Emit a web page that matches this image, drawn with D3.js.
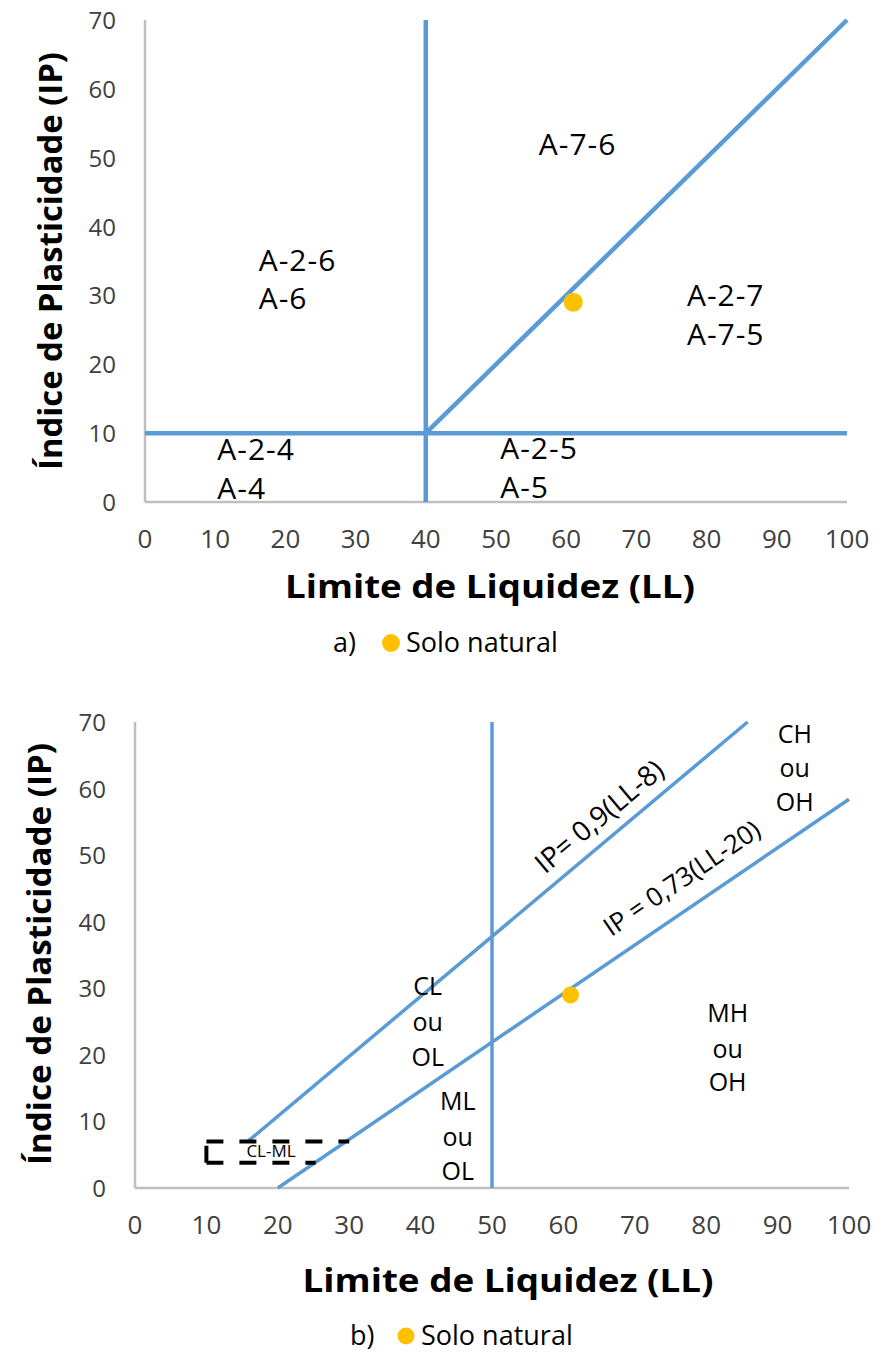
<!DOCTYPE html>
<html>
<head>
<meta charset="utf-8">
<script src="https://cdn.jsdelivr.net/npm/d3@7"></script>
<style>
  body { margin: 0; background: #fff; }
  svg { display: block; }
  .tick-x { font-family: "Open Sans", sans-serif; font-size: 26px; fill: #404040; }
  .tick-y { font-family: "Open Sans", sans-serif; font-size: 24px; fill: #404040; }
  .axis-title { font-family: "Open Sans", sans-serif; font-weight: bold; font-size: 33px; fill: #000; }
  .zone { font-family: "Open Sans", sans-serif; font-size: 30px; fill: #000; letter-spacing: 1px; }
  .zone-b { font-family: "Open Sans", sans-serif; font-size: 25px; fill: #000; }
  .caption { font-family: "Open Sans", sans-serif; font-size: 27px; fill: #000; }
</style>
</head>
<body>
<div id="chart"></div>
<script>
// axis ticks (both panels)
const xTicks = [0, 10, 20, 30, 40, 50, 60, 70, 80, 90, 100];
const yTicks = [0, 10, 20, 30, 40, 50, 60, 70];

// sample: Solo natural [LL, IP]
const soloNatural = [[61, 29]];

// panel a) AASHTO boundaries
const aashtoLines = [
  [[40, 0], [40, 70]],
  [[0, 10], [100, 10]],
  [[40, 10], [100, 70]]
];
const aashtoLabels = [
  { t: "A-7-6", x: 56.1, y: 50.4 },
  { t: "A-2-6", x: 16.2, y: 33.6 },
  { t: "A-6", x: 16.2, y: 28.0 },
  { t: "A-2-7", x: 77.2, y: 28.4 },
  { t: "A-7-5", x: 77.2, y: 22.8 },
  { t: "A-2-4", x: 10.3, y: 6.1 },
  { t: "A-4", x: 10.3, y: 0.4 },
  { t: "A-2-5", x: 50.6, y: 6.2 },
  { t: "A-5", x: 50.6, y: 0.6 }
];

// panel b) USCS (Casagrande) boundaries
const uscsLines = [
  [[50, 0], [50, 70]],
  [[15.8, 7], [85.8, 70]],   // IP = 0,9(LL-8)
  [[20, 0], [100, 58.4]]     // IP = 0,73(LL-20)
];
const clmlBox = [
  [[10, 7], [30, 7]],
  [[10, 3.8], [25.3, 3.8]],
  [[10, 3.8], [10, 7]]
];
const uscsLabels = [
  { t: ["CL", "ou", "OL"], x: 41, y: [29, 23.6, 18.3] },
  { t: ["ML", "ou", "OL"], x: 45.2, y: [11.7, 6.3, 1.2] },
  { t: ["MH", "ou", "OH"], x: 83, y: [24.9, 19.6, 14.5] },
  { t: ["CH", "ou", "OH"], x: 92.4, y: [66.9, 61.7, 56.6] }
];
const lineLabels = [
  { t: "IP= 0,9(LL-8)", x: 65.9, y: 54.7, line: 1, size: 28 },
  { t: "IP = 0,73(LL-20)", x: 77.3, y: 45.4, line: 2, size: 26 }
];

const blue = "#5b9bd5";
const gold = "#ffc000";

const svg = d3.select("#chart").append("svg")
  .attr("width", 877)
  .attr("height", 1354);

function panel(opt) {
  const x = d3.scaleLinear().domain([0, 100]).range([opt.left, opt.right]);
  const y = d3.scaleLinear().domain([0, 70]).range([opt.bottom, opt.top]);
  const g = svg.append("g");

  // axes lines (grey, no tick marks)
  g.append("line")
    .attr("x1", x(0)).attr("x2", x(0))
    .attr("y1", y(0)).attr("y2", y(70))
    .attr("stroke", "#bfbfbf").attr("stroke-width", 2.5);
  g.append("line")
    .attr("x1", x(0)).attr("x2", x(100))
    .attr("y1", y(0)).attr("y2", y(0))
    .attr("stroke", "#bfbfbf").attr("stroke-width", 2.5);

  g.selectAll(".tick-x").data(xTicks).enter().append("text")
    .attr("class", "tick-x")
    .attr("x", d => x(d))
    .attr("y", y(0) + opt.tickXOff)
    .attr("text-anchor", "middle")
    .text(d => d);
  g.selectAll(".tick-y").data(yTicks).enter().append("text")
    .attr("class", "tick-y")
    .attr("x", x(0) - opt.tickYOff)
    .attr("y", d => y(d) + 9)
    .attr("text-anchor", "end")
    .text(d => d);

  g.append("text")
    .attr("class", "axis-title")
    .attr("x", opt.xTitle[0]).attr("y", opt.xTitle[1])
    .attr("text-anchor", "middle")
    .attr("textLength", opt.xTitle[2])
    .attr("lengthAdjust", "spacingAndGlyphs")
    .text("Limite de Liquidez (LL)");
  g.append("text")
    .attr("class", "axis-title")
    .attr("transform", `translate(${opt.yTitle[0]},${opt.yTitle[1]}) rotate(-90)`)
    .attr("text-anchor", "middle")
    .attr("textLength", opt.yTitle[2])
    .attr("lengthAdjust", "spacingAndGlyphs")
    .text("Índice de Plasticidade (IP)");

  const line = d3.line().x(d => x(d[0])).y(d => y(d[1]));
  g.selectAll(".bound").data(opt.lines).enter().append("path")
    .attr("d", line)
    .attr("fill", "none")
    .attr("stroke", blue)
    .attr("stroke-width", opt.lineW);

  return { g, x, y, line };
}

// ---- panel a ----
const pa = panel({
  left: 145, right: 847, top: 20, bottom: 502,
  tickXOff: 46, tickYOff: 29,
  xTitle: [490, 598, 410], yTitle: [62, 261, 418],
  lines: aashtoLines, lineW: 4.5
});

pa.g.selectAll(".zone").data(aashtoLabels).enter().append("text")
  .attr("class", "zone")
  .attr("x", d => pa.x(d.x))
  .attr("y", d => pa.y(d.y))
  .text(d => d.t);

pa.g.selectAll(".pt").data(soloNatural).enter().append("circle")
  .attr("cx", d => pa.x(d[0]))
  .attr("cy", d => pa.y(d[1]))
  .attr("r", 9.5)
  .attr("fill", gold);

// caption a
svg.append("text").attr("class", "caption").attr("x", 333).attr("y", 652).text("a)");
svg.append("circle").attr("cx", 391).attr("cy", 643).attr("r", 9).attr("fill", gold);
svg.append("text").attr("class", "caption").attr("x", 406).attr("y", 652).text("Solo natural");

// ---- panel b ----
const pb = panel({
  left: 135, right: 849, top: 722, bottom: 1188,
  tickXOff: 46, tickYOff: 29,
  xTitle: [508, 1292, 411], yTitle: [51, 954, 422],
  lines: uscsLines, lineW: 3.5
});

pb.g.selectAll(".box").data(clmlBox).enter().append("path")
  .attr("d", pb.line)
  .attr("fill", "none")
  .attr("stroke", "#000")
  .attr("stroke-width", 4)
  .attr("stroke-dasharray", "17,16");

pb.g.append("text")
  .attr("font-family", "'Open Sans', sans-serif")
  .attr("font-size", 17)
  .attr("x", 271).attr("y", pb.y(4.6))
  .attr("text-anchor", "middle")
  .text("CL-ML");

uscsLabels.forEach(d => {
  d.t.forEach((s, i) => {
    pb.g.append("text")
      .attr("class", "zone-b")
      .attr("x", pb.x(d.x))
      .attr("y", pb.y(d.y[i]))
      .attr("text-anchor", "middle")
      .text(s);
  });
});

lineLabels.forEach(d => {
  const seg = uscsLines[d.line];
  const ang = Math.atan2(pb.y(seg[1][1]) - pb.y(seg[0][1]), pb.x(seg[1][0]) - pb.x(seg[0][0])) * 180 / Math.PI;
  pb.g.append("text")
    .attr("class", "zone-b")
    .style("font-size", d.size + "px")
    .attr("transform", `translate(${pb.x(d.x)},${pb.y(d.y)}) rotate(${ang})`)
    .attr("text-anchor", "middle")
    .text(d.t);
});

pb.g.selectAll(".pt").data(soloNatural).enter().append("circle")
  .attr("cx", d => pb.x(d[0]))
  .attr("cy", d => pb.y(d[1]))
  .attr("r", 8.5)
  .attr("fill", gold);

// caption b
svg.append("text").attr("class", "caption").attr("x", 350).attr("y", 1345).text("b)");
svg.append("circle").attr("cx", 406).attr("cy", 1336).attr("r", 8.5).attr("fill", gold);
svg.append("text").attr("class", "caption").attr("x", 421).attr("y", 1345).text("Solo natural");
</script>
</body>
</html>
